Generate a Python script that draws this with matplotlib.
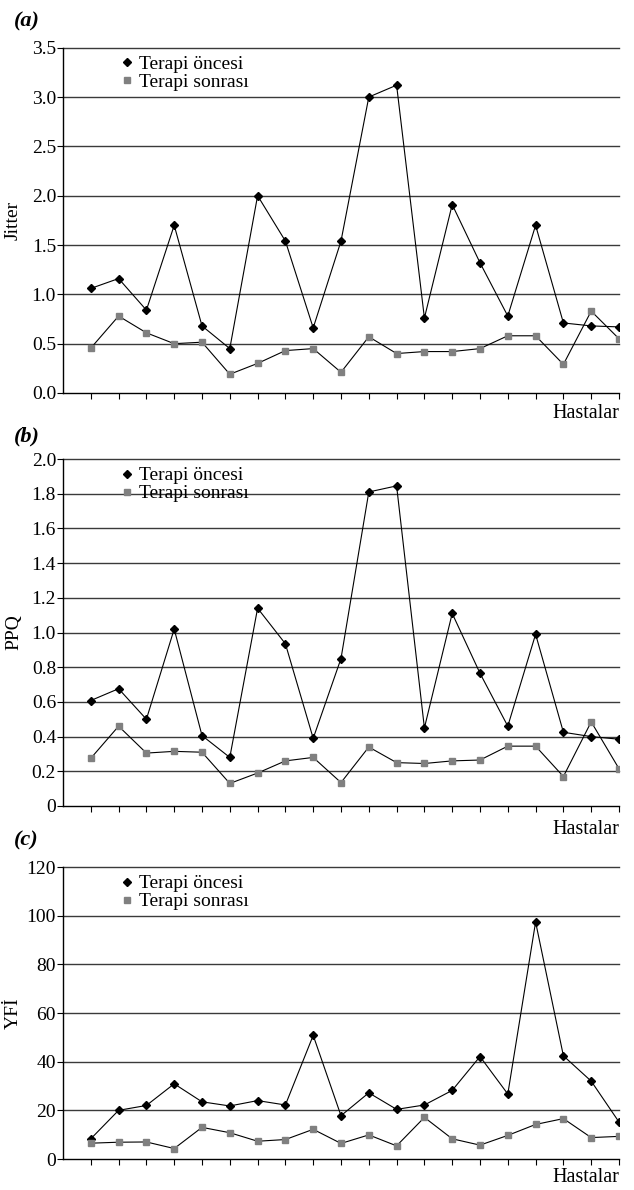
import matplotlib
matplotlib.use("Agg")
import matplotlib.pyplot as plt
import numpy as np

patients = list(range(1, 21))

jitter_pre = [1.06, 1.16, 0.84, 1.70, 0.68, 0.45, 2.00, 1.54, 0.66, 1.54,
              3.00, 3.12, 0.76, 1.91, 1.32, 0.78, 1.70, 0.71, 0.68, 0.67]
jitter_post = [0.455, 0.78, 0.61, 0.50, 0.515, 0.19, 0.30, 0.43, 0.45, 0.21,
               0.57, 0.40, 0.42, 0.42, 0.45, 0.58, 0.58, 0.29, 0.83, 0.55]

ppq_pre = [0.608, 0.676, 0.50, 1.02, 0.406, 0.28, 1.14, 0.935, 0.39, 0.85,
           1.81, 1.845, 0.45, 1.11, 0.765, 0.46, 0.99, 0.425, 0.40, 0.385]
ppq_post = [0.275, 0.46, 0.305, 0.315, 0.31, 0.13, 0.19, 0.26, 0.28, 0.135,
            0.34, 0.25, 0.245, 0.26, 0.265, 0.345, 0.345, 0.17, 0.485, 0.215]

yfi_pre = [8.3, 20.0, 22.0, 30.9, 23.5, 21.8, 24.0, 22.2, 50.8, 17.8,
           27.2, 20.4, 22.2, 28.2, 42.1, 26.7, 97.4, 42.4, 32.0, 15.2]
yfi_post = [6.5, 6.9, 7.0, 4.3, 13.0, 10.8, 7.3, 8.0, 12.2, 6.4,
            9.9, 5.4, 17.1, 8.3, 5.7, 9.7, 14.2, 16.6, 8.8, 9.3]

panels = [
    dict(tag="(a)", ylabel="Jitter", pre=jitter_pre, post=jitter_post,
         yticks=[0.0, 0.5, 1.0, 1.5, 2.0, 2.5, 3.0, 3.5],
         yticklabels=["0.0", "0.5", "1.0", "1.5", "2.0", "2.5", "3.0", "3.5"]),
    dict(tag="(b)", ylabel="PPQ", pre=ppq_pre, post=ppq_post,
         yticks=[0, 0.2, 0.4, 0.6, 0.8, 1.0, 1.2, 1.4, 1.6, 1.8, 2.0],
         yticklabels=["0", "0.2", "0.4", "0.6", "0.8", "1.0", "1.2", "1.4", "1.6", "1.8", "2.0"]),
    dict(tag="(c)", ylabel="YFİ", pre=yfi_pre, post=yfi_post,
         yticks=[0, 20, 40, 60, 80, 100, 120],
         yticklabels=["0", "20", "40", "60", "80", "100", "120"]),
]

plt.rcParams['font.family'] = ['Liberation Serif', 'DejaVu Serif']

W, H = 634, 1190
fig = plt.figure(figsize=(W / 100, H / 100), dpi=100)

# pixel layout: (top, bottom) of each axes, tag y, Hastalar y
layout = [
    (47.7, 393, 21, 413),
    (459, 806, 436, 830),
    (867, 1159, 840, 1177),
]
left_px, right_px = 63, 619

for p, (top, bot, tag_y, hast_y) in zip(panels, layout):
    ax = fig.add_axes([left_px / W, 1 - bot / H, (right_px - left_px) / W, (bot - top) / H])
    ax.set_xlim(0, 20)
    ax.set_ylim(p["yticks"][0], p["yticks"][-1])
    for yv in p["yticks"][1:]:
        ax.axhline(yv, color="#3a3a3a", lw=1.0, zorder=1, clip_on=False)
    ax.plot(patients, p["pre"], color="black", lw=0.8, marker="D", ms=4.3,
            mfc="black", mec="black", zorder=3, label="Terapi öncesi")
    ax.plot(patients, p["post"], color="black", lw=0.8, marker="s", ms=4.5,
            mfc="#808080", mec="#808080", zorder=3, label="Terapi sonrası")
    ax.set_xticks(patients)
    ax.set_xticklabels([])
    ax.set_yticks(p["yticks"])
    ax.set_yticklabels(p["yticklabels"], fontsize=14)
    ax.tick_params(axis="x", direction="out", length=4, width=0.8, color="black")
    ax.tick_params(axis="y", direction="out", length=4, width=0.8, color="black", pad=1)
    for s in ("top", "right"):
        ax.spines[s].set_visible(False)
    for s in ("left", "bottom"):
        ax.spines[s].set_linewidth(1.0)
        ax.spines[s].set_color("black")
    ax.set_ylabel(p["ylabel"], fontsize=14)
    ax.yaxis.set_label_coords(-(63 - 22) / (right_px - left_px), 0.5)
    h1 = plt.Line2D([], [], ls="none", marker="D", ms=3.8, mfc="black", mec="black")
    h2 = plt.Line2D([], [], ls="none", marker="s", ms=4.2, mfc="#808080", mec="#808080")
    ax.legend([h1, h2], ["Terapi öncesi", "Terapi sonrası"], loc="upper left",
              bbox_to_anchor=(0.09, 1.0), frameon=False, fontsize=14,
              handlelength=0.6, handletextpad=0.35, labelspacing=0.02,
              borderaxespad=0.0)
    fig.text(14 / W, 1 - tag_y / H, p["tag"], fontsize=16, fontweight="bold",
             fontstyle="italic", ha="left", va="center")
    fig.text(right_px / W, 1 - hast_y / H, "Hastalar", fontsize=14.5, ha="right", va="center")

fig.savefig("out.png", dpi=100)
